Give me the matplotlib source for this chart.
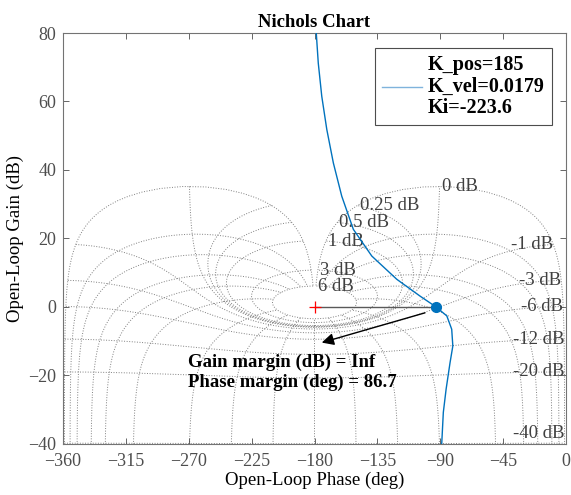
import numpy as np
import matplotlib
matplotlib.use("Agg")
import matplotlib.pyplot as plt

plt.rcParams['font.family'] = ['Liberation Serif', 'DejaVu Serif']

# ---- data ----
curve_phase = [-178.9, -177.3, -174.8, -171.2, -166.5, -160.5, -152.2, -139.0,
               -121.1, -104.5, -93.3, -85.3, -81.8, -81.0, -83.0, -85.8, -87.8, -88.9, -89.3]
curve_gain = [81.0, 71.2, 61.5, 51.8, 42.0, 32.3, 22.6, 14.8,
              8.0, 3.1, 0.0, -2.7, -6.6, -11.5, -16.4, -24.1, -30.9, -39.7, -42.0]
pm_phase = -93.3          # phase at gain crossover (phase margin 86.7)
legend_label = "K_pos=185\nK_vel=0.0179\nKi=-223.6"
gm_text = "Gain margin (dB) = Inf"
pm_text = "Phase margin (deg) = 86.7"

# Nichols grid definition (closed-loop gains in dB, closed-loop phases in deg)
grid_gains_db = [6, 3, 1, 0.5, 0.25, 0, -1, -3, -6, -12, -20, -40]
grid_phases = [-1, -5, -10, -20, -30, -50, -90, -120, -150, -180,
               -210, -240, -270, -310, -330, -340, -350, -355, -359]

xticks = list(range(-360, 1, 45))
yticks = list(range(-40, 81, 20))

fig = plt.figure(figsize=(5.71, 4.95), dpi=100)
ax = fig.add_axes([63/571, 1-443.5/495, (566-63)/571, (443.5-33)/495])

gcol = '0.5'
# constant closed-loop gain curves
th = np.deg2rad(np.linspace(-359, -1, 1500))
for gdb in grid_gains_db:
    M = 10**(gdb/20)
    T = M*np.exp(1j*th)
    G = T/(1-T)
    ph = np.rad2deg(th) - np.rad2deg(np.angle(1-T))
    gn = 20*np.log10(np.abs(G))
    ax.plot(ph, gn, ls=':', color=gcol, lw=0.7, zorder=1)
    # label at the theta=-1 deg end
    px, py = ph[-1], gn[-1]
    if gdb >= 0:
        ax.text(px + 1.5, py, f"{gdb:g} dB", ha='left', va='center', fontsize=13.5,
                color='0.25', zorder=2)
    else:
        ax.text(px, max(py, -37.0), f"{gdb:g} dB", ha='right', va='center', fontsize=13.5,
                color='0.25', zorder=2)

# constant closed-loop phase curves
m = np.logspace(-3, np.log10(2), 1500)
for p in grid_phases:
    T = m*np.exp(1j*np.deg2rad(p))
    G = T/(1-T)
    ph = p - np.rad2deg(np.angle(1-T))
    gn = 20*np.log10(np.abs(G))
    ax.plot(ph, gn, ls=':', color=gcol, lw=0.7, zorder=1)

# critical point & phase margin line
ax.plot([-180, pm_phase], [0, 0], color='0.35', lw=1.0, zorder=3)
ax.plot([-180], [0], marker='+', color='red', ms=8, mew=0.9, zorder=4)

# open loop curve
ax.plot(curve_phase, curve_gain, color='#0072BD', lw=1.0, zorder=5, label=legend_label)
ax.plot([pm_phase], [0], marker='o', color='#0072BD', ms=7, zorder=6)

# margin annotation
ax.annotate("", xy=(-174.8, -10.5), xytext=(-100.9, -1.8),
            arrowprops=dict(arrowstyle='-|>', color='black', lw=1.0,
                            mutation_scale=18, shrinkA=0, shrinkB=0), zorder=7)
ax.text(-270.5, -16.3, gm_text, fontsize=13.5, fontweight='bold', ha='left', va='center', zorder=7)
ax.text(-270.5, -22.2, pm_text, fontsize=13.5, fontweight='bold', ha='left', va='center', zorder=7)

ax.set_xlim(-360, 0)
ax.set_ylim(-40, 80)
ax.set_xticks(xticks)
ax.set_yticks(yticks)
ax.tick_params(direction='in', top=True, right=True, length=4, width=0.6,
               labelsize=13, colors='0.3')
ax.tick_params(axis='x', pad=7)
ax.tick_params(axis='y', pad=5)
for s in ax.spines.values():
    s.set_color('0.45')
    s.set_linewidth(0.8)

ax.set_xlabel("Open-Loop Phase (deg)", fontsize=13.5, color='black', labelpad=1)
ax.set_ylabel("Open-Loop Gain (dB)", fontsize=13.5, color='black', labelpad=3)
ax.set_title("Nichols Chart", fontsize=13.5, fontweight='bold', pad=4)

leg = ax.legend(loc='upper right', bbox_to_anchor=(552/571, 1-48/495),
                bbox_transform=fig.transFigure, fancybox=False, framealpha=1,
                edgecolor='0.3', prop={'weight': 'bold', 'size': 14.5},
                handlelength=2.0, handletextpad=0.3, borderpad=0.35, borderaxespad=0)
leg.get_frame().set_linewidth(0.8)
leg.get_lines()[0].set_color('#7fb3dc')
for t in leg.get_texts():
    t.set_linespacing(1.1)

fig.savefig("out.png", dpi=100)
